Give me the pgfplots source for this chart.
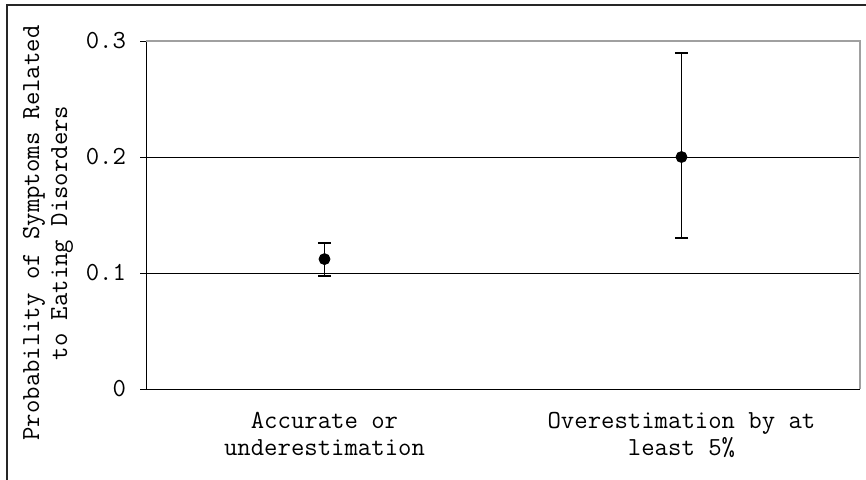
\documentclass[border=0pt]{standalone}
\usepackage{fontspec}
\usepackage{pgfplots}
\pgfplotsset{compat=1.18}
\definecolor{framegray}{HTML}{A0A0A0}
\newcommand{\cf}{\ttfamily\fontsize{13}{13.5}\selectfont}
\begin{document}
\cf
\begin{tikzpicture}
\useasboundingbox (0,0) rectangle (433pt,239.5pt);
\draw[line width=1pt, black!85] (3.5pt,-10pt) rectangle (445pt,237pt);
\begin{axis}[
  at={(73pt,45pt)}, anchor=south west,
  scale only axis, width=357pt, height=174pt,
  xmin=0.5, xmax=2.5, ymin=0, ymax=0.3,
  axis x line*=bottom, axis y line*=left,
  axis line style={line width=0.5pt, black},
  ytick={0,0.1,0.2,0.3},
  yticklabels={0,0.1,0.2,0.3},
  yticklabel style={font=\cf, xshift=-2.5pt},
  ymajorgrids, grid style={line width=0.5pt, black},
  tick align=outside, major tick length=3pt,
  tick style={line width=0.5pt, black},
  xtick={1,2},
  xticklabels={{Accurate or\\underestimation},{Overestimation by at\\least 5\%}},
  xticklabel style={align=center, font=\cf, yshift=-4pt},
  x tick style={draw=none},
  extra x ticks={0.5,1.5,2.5},
  extra x tick labels={},
  extra x tick style={grid=none, tick style={draw=black, line width=0.5pt}},
  clip=false,
]
\draw[framegray, line width=1pt] (rel axis cs:0,1) -- (rel axis cs:1,1) -- (rel axis cs:1,0);
\addplot[only marks, black, mark=*, mark size=2.75pt,
  error bars/.cd, y dir=both, y explicit,
  error bar style={line width=0.9pt, black},
  error mark options={rotate=90, mark size=3.3pt, line width=0.9pt, black}]
  coordinates {
    (1,0.112) += (0,0.014) -= (0,0.0145)
    (2,0.200) += (0,0.090) -= (0,0.070)
  };
\end{axis}
\node[rotate=90, align=center, font=\ttfamily\fontsize{13}{14}\selectfont] at (24pt,123pt)
  {Probability of Symptoms Related\\to Eating Disorders};
\end{tikzpicture}
\end{document}
